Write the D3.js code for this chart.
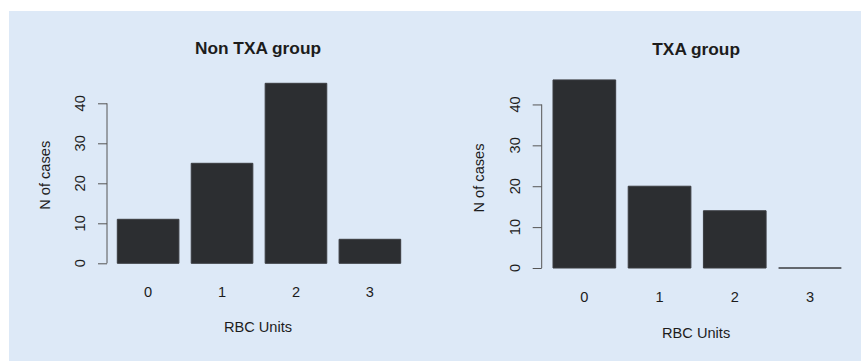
<!DOCTYPE html>
<html><head><meta charset="utf-8">
<script src="https://cdn.jsdelivr.net/npm/d3@7"></script>
<style>body{margin:0;background:#fff}svg{display:block}text{font-family:"Liberation Sans",Arial,sans-serif;fill:#1c1c1c}</style>
</head><body><svg id="c" width="861" height="362"></svg>
<script>
const categories = ["0","1","2","3"];
const nonTxaValues = [11, 25, 45, 6];
const txaValues = [46, 20, 14, 0];
const yTicks = [0, 10, 20, 30, 40];
const titles = ["Non TXA group", "TXA group"];
const xTitle = "RBC Units";
const yTitle = "N of cases";

const svg = d3.select("#c");
svg.append("rect").attr("x",9).attr("y",11).attr("width",852).attr("height",350).attr("fill","#dde9f7");

const panels = [
  {values: nonTxaValues, title: titles[0], xr:[117.3,400.7], yr:[263.3,83.3], axisX:107, tickLabX:80, yTitleX:45, xLabY:292, xTitleY:327, titleY:48},
  {values: txaValues, title: titles[1], xr:[553,841.3], yr:[268,84], axisX:541.7, tickLabX:515, yTitleX:479, xLabY:297, xTitleY:333, titleY:49}
];

panels.forEach(p => {
  const g = svg.append("g");
  const x = d3.scaleBand().domain(categories).range(p.xr).paddingInner(0.2/1.2).paddingOuter(0);
  const y = d3.scaleLinear().domain([0,45]).range(p.yr);
  const cx = (p.xr[0]+p.xr[1])/2 - 1;
  g.selectAll("path.bar").data(p.values).join("path").attr("class","bar")
    .attr("d",(d,i)=>{
      const x0 = x(categories[i]), x1 = x0 + x.bandwidth();
      return `M${x0},${y(0)}V${y(d)}H${x1}V${y(0)}Z`;
    })
    .attr("fill","#2c2e31").attr("stroke","#3a3c40").attr("stroke-width",1);
  const ax = g.append("g").attr("transform",`translate(${p.axisX},0)`)
    .call(d3.axisLeft(y).tickValues(yTicks).tickSize(9).tickFormat(""));
  ax.select(".domain").attr("d",`M0,${y(0)}V${y(40)}`).attr("stroke","#555");
  ax.selectAll(".tick line").attr("stroke","#555");
  g.selectAll("text.yt").data(yTicks).join("text").attr("class","yt")
    .attr("transform",d=>`translate(${p.tickLabX},${y(d)}) rotate(-90)`)
    .attr("text-anchor","middle").attr("dy","0.35em").style("font-size","14.6px").text(d=>d);
  g.selectAll("text.xt").data(categories).join("text").attr("class","xt")
    .attr("x",d=>x(d)+x.bandwidth()/2).attr("y",p.xLabY).attr("dy","0.35em")
    .attr("text-anchor","middle").style("font-size","14.6px").text(d=>d);
  g.append("text").attr("x",cx).attr("y",p.xTitleY).attr("dy","0.35em").attr("text-anchor","middle")
    .style("font-size","14.6px").text(xTitle);
  g.append("text").attr("transform",`translate(${p.yTitleX},${(p.yr[0]+p.yr[1])/2+2}) rotate(-90)`)
    .attr("text-anchor","middle").attr("dy","0.35em").style("font-size","14.6px").text(yTitle);
  g.append("text").attr("x",cx).attr("y",p.titleY).attr("dy","0.35em").attr("text-anchor","middle")
    .style("font-size","17.3px").style("font-weight","bold").text(p.title);
});
</script></body></html>
